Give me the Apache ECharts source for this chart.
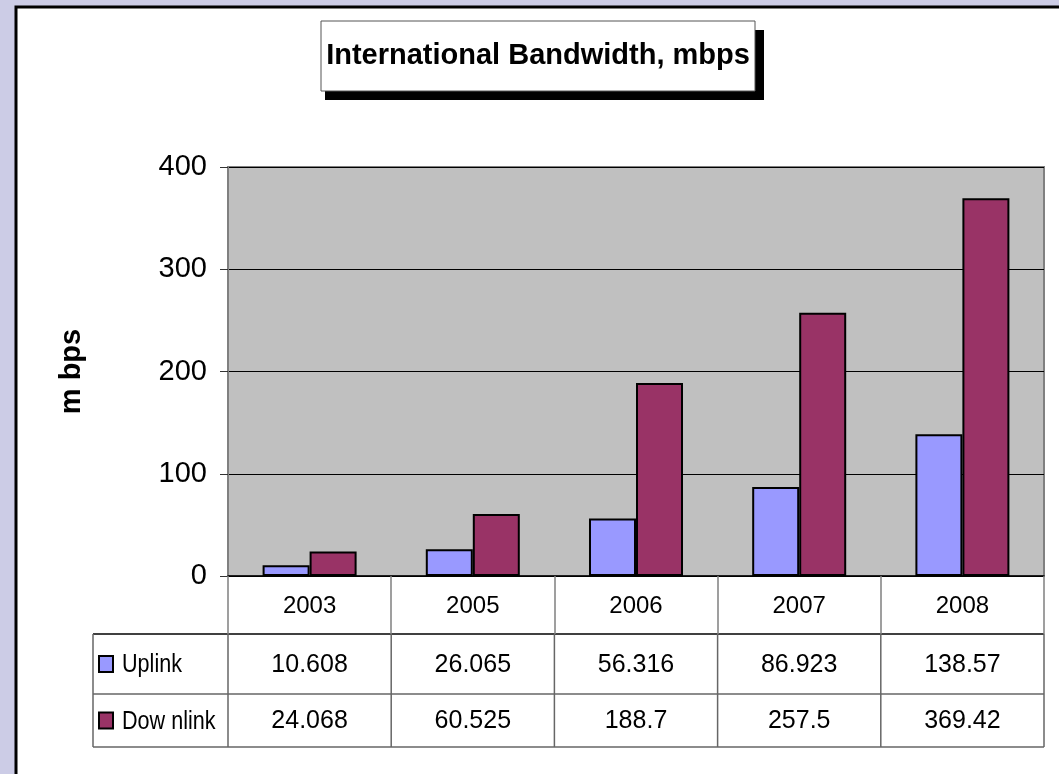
<!DOCTYPE html>
<html>
<head>
<meta charset="utf-8">
<script src="https://cdn.jsdelivr.net/npm/echarts@6/dist/echarts.min.js"></script>
<style>
  html, body { margin: 0; padding: 0; background: #ccccE6; }
  #main { width: 1059px; height: 774px; }
</style>
</head>
<body>
<div id="main"></div>
<script>
// data
var years = ['2003', '2005', '2006', '2007', '2008'];
var uplink = [10.608, 26.065, 56.316, 86.923, 138.57];
var downlink = [24.068, 60.525, 188.7, 257.5, 369.42];
var yTicks = [0, 100, 200, 300, 400];
var seriesNames = ['Uplink', 'Dow nlink'];
var seriesColors = ['#9999FF', '#993366'];

var FONT = '"Liberation Sans Narrow", "Arial Narrow", "Liberation Sans", Arial, sans-serif';
var G = { left: 228, top: 167, right: 1044, bottom: 576 };
var rowY = [576, 634, 694, 747];
var tableLeft = 93;

var myChart = echarts.init(document.getElementById('main'));

var option = {
    backgroundColor: '#ccccE6',
    animation: false,
    grid: {
        left: G.left, top: G.top,
        width: G.right - G.left, height: G.bottom - G.top,
        show: true, backgroundColor: '#C0C0C0',
        borderColor: '#808080', borderWidth: 2
    },
    xAxis: {
        type: 'category',
        data: years,
        boundaryGap: true,
        axisLine: { lineStyle: { color: '#000', width: 1.5 } },
        axisTick: { show: true, length: rowY[1] - rowY[0], lineStyle: { color: '#808080', width: 1.5 } },
        axisLabel: { color: '#000', fontFamily: FONT, fontSize: 24, margin: 18 },
        z: 5
    },
    yAxis: {
        type: 'value',
        min: yTicks[0], max: yTicks[yTicks.length - 1], interval: 100,
        name: 'm bps',
        nameLocation: 'middle',
        nameGap: 142,
        nameRotate: 90,
        nameTextStyle: { fontFamily: 'Liberation Sans, Arial, sans-serif', fontWeight: 'bold', fontSize: 29, color: '#000' },
        axisLine: { show: true, lineStyle: { color: '#808080', width: 2 } },
        axisTick: { show: true, length: 8, lineStyle: { color: '#333' } },
        axisLabel: { color: '#000', fontFamily: FONT, fontSize: 29, margin: 21 },
        splitLine: { lineStyle: { color: '#000', width: 1 } }
    },
    series: [
        {
            name: seriesNames[0], type: 'bar', data: uplink,
            barWidth: '28.8%', barGap: '0%',
            itemStyle: { color: seriesColors[0], borderColor: '#000', borderWidth: 2 }
        },
        {
            name: seriesNames[1], type: 'bar', data: downlink,
            barWidth: '28.8%', barGap: '0%',
            itemStyle: { color: seriesColors[1], borderColor: '#000', borderWidth: 2 }
        }
    ]
};
myChart.setOption(option);

// panel, title box, data table
var g = [];
g.push({ type: 'rect', z: -10, silent: true,
    shape: { x: 16, y: 7, width: 1100, height: 820 },
    style: { fill: '#fff', stroke: '#000', lineWidth: 3 } });
g.push({ type: 'rect', z: 1,
    shape: { x: 325, y: 30, width: 439, height: 70 },
    style: { fill: '#000' } });
g.push({ type: 'rect', z: 2,
    shape: { x: 321, y: 21, width: 434, height: 70 },
    style: { fill: '#fff', stroke: '#555', lineWidth: 1 } });
g.push({ type: 'text', z: 3, x: 538, y: 56,
    style: { text: 'International Bandwidth, mbps', fontFamily: FONT, fontWeight: 'bold', fontSize: 29,
        fill: '#000', textAlign: 'center', textVerticalAlign: 'middle' } });

// table grid lines
var bounds = [G.left];
years.forEach(function (y, i) {
    var c = myChart.convertToPixel({ xAxisIndex: 0 }, i);
    bounds.push(2 * c - bounds[i]);
});
[1, 2, 3].forEach(function (r) {
    g.push({ type: 'line', z: 4, shape: { x1: tableLeft, y1: rowY[r], x2: G.right, y2: rowY[r] },
        style: { stroke: r === 1 ? '#000' : '#666', lineWidth: 1.5 } });
});
g.push({ type: 'line', z: 4, shape: { x1: tableLeft, y1: rowY[1], x2: tableLeft, y2: rowY[3] },
    style: { stroke: '#666', lineWidth: 1.5 } });
bounds.forEach(function (x) {
    g.push({ type: 'line', z: 4, shape: { x1: x, y1: rowY[1], x2: x, y2: rowY[3] },
        style: { stroke: '#666', lineWidth: 1.5 } });
});

// rows
[uplink, downlink].forEach(function (vals, r) {
    var cy = (rowY[r + 1] + rowY[r + 2]) / 2;
    g.push({ type: 'rect', z: 4, shape: { x: 99, y: cy - 8, width: 14, height: 16 },
        style: { fill: seriesColors[r], stroke: '#000', lineWidth: 2 } });
    g.push({ type: 'text', z: 4, x: 122, y: cy + 1, scaleX: 0.83,
        style: { text: seriesNames[r], fontFamily: FONT, fontSize: 26, fill: '#000', textVerticalAlign: 'middle' } });
    vals.forEach(function (v, i) {
        var cx = myChart.convertToPixel({ xAxisIndex: 0 }, i);
        g.push({ type: 'text', z: 4, x: cx, y: cy + 1,
            style: { text: String(v), fontFamily: FONT, fontSize: 25, fill: '#000',
                textAlign: 'center', textVerticalAlign: 'middle' } });
    });
});

myChart.setOption({ graphic: g });
</script>
</body>
</html>
